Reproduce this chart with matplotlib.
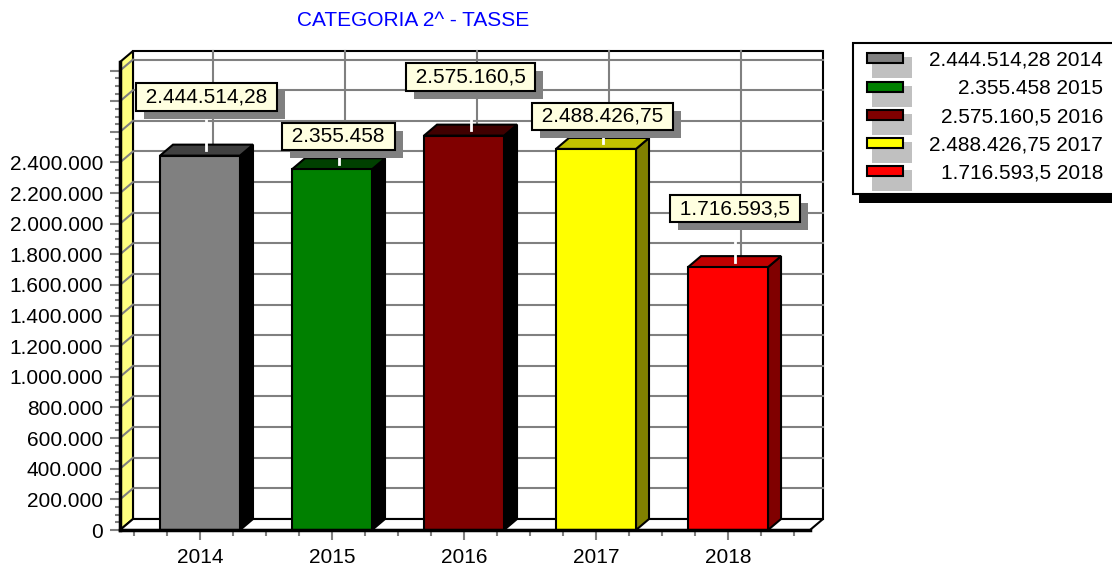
import numpy as np
import matplotlib
matplotlib.use('Agg')
import matplotlib.pyplot as plt
from matplotlib.patches import Polygon, Rectangle
from matplotlib.transforms import IdentityTransform

plt.rcParams['font.family'] = ['Liberation Sans', 'DejaVu Sans']

# dati
years = ['2014', '2015', '2016', '2017', '2018']
values = [2444514.28, 2355458, 2575160.5, 2488426.75, 1716593.5]
front_colors = ['#808080', '#008000', '#800000', '#FFFF00', '#FF0000']
top_colors = ['#404040', '#004000', '#400000', '#C0C000', '#C00000']
side_colors = ['#000000', '#000000', '#000000', '#808000', '#800000']
label_gap = [45, 19, 45, 19, 45]  # px tra barra e etichetta
y_max = 3056000
y_label_max = 2400000


def fmt_it(v):
    s = f'{v:,.2f}'.rstrip('0').rstrip('.')
    return s.replace(',', 'X').replace('.', ',').replace('X', '.')


W, H = 1112, 567
fig = plt.figure(figsize=(W / 100, H / 100), dpi=100)
ax = fig.add_axes([120 / W, 1 - 530 / H, 690 / W, 468 / H])
ax.set_xlim(-0.606, 4.621)
ax.set_ylim(0, y_max)
ax.patch.set_visible(False)

x0, x1 = ax.get_xlim()
y0, y1 = ax.get_ylim()
px_x = ax.bbox.width / (x1 - x0)
px_y = ax.bbox.height / (y1 - y0)
ddx = 13 / px_x   # profondita' 3D
ddy = 11 / px_y

grid_c = '#808080'
yticks = np.arange(0, 3000001, 200000)

# parete di fondo
ax.add_patch(Rectangle((x0 + ddx, y0 + ddy), x1 - x0, y1 - y0, fc='white',
                       ec='black', lw=1.5, clip_on=False, zorder=0.5))
for y in yticks[1:]:
    ax.plot([x0 + ddx, x1 + ddx], [y + ddy, y + ddy], color=grid_c, lw=1.5,
            clip_on=False, zorder=0.6)
for i in range(len(years)):
    ax.plot([i + ddx, i + ddx], [ddy, y1 + ddy], color=grid_c, lw=1.5,
            clip_on=False, zorder=0.6)

# parete sinistra gialla
ax.add_patch(Polygon([(x0, y0), (x0 + ddx, y0 + ddy), (x0 + ddx, y1 + ddy), (x0, y1)],
                     closed=True, fc='#FFFF80', ec='black', lw=1.5, clip_on=False, zorder=0.7))
for y in yticks[1:]:
    ax.plot([x0, x0 + ddx], [y, y + ddy], color=grid_c, lw=1.5, clip_on=False, zorder=0.75)

# pavimento
ax.add_patch(Polygon([(x0, y0), (x1, y0), (x1 + ddx, y0 + ddy), (x0 + ddx, y0 + ddy)],
                     closed=True, fc='white', ec='black', lw=1.5, clip_on=False, zorder=0.8))

# barre
bw = 0.606
xs = np.arange(len(years))
ax.bar(xs, values, width=bw, color=front_colors, edgecolor='black', lw=1.5, zorder=3)
for x, v, tc, sc in zip(xs, values, top_colors, side_colors):
    r, l = x + bw / 2, x - bw / 2
    ax.add_patch(Polygon([(r, 0), (r + ddx, ddy), (r + ddx, v + ddy), (r, v)], closed=True,
                         fc=sc, ec='black', lw=1.5, clip_on=False, zorder=2.9))
    ax.add_patch(Polygon([(l, v), (r, v), (r + ddx, v + ddy), (l + ddx, v + ddy)], closed=True,
                         fc=tc, ec='black', lw=1.5, clip_on=False, zorder=2.9))

# etichette valori
labels = []
for x, v, gap in zip(xs, values, label_gap):
    txt = ' ' + fmt_it(v) + ' '
    cx = x + ddx / 2
    ax.plot([cx, cx], [v + ddy / 2, v + (gap - 8) / px_y], color='white', lw=2,
            clip_on=False, zorder=3.5)
    ann = ax.annotate(txt, xy=(cx, v), xytext=(0, (gap + 4) * 0.72),
                      textcoords='offset points', ha='center', va='bottom', fontsize=15,
                      color='black', zorder=6,
                      bbox=dict(boxstyle='square,pad=0.2', fc='#FFFFE0', ec='black', lw=1.5))
    labels.append(ann)

# assi
for s in ['top', 'right']:
    ax.spines[s].set_visible(False)
for s in ['left', 'bottom']:
    ax.spines[s].set_linewidth(2.5)
    ax.spines[s].set_zorder(4)

ax.set_yticks(yticks)
ax.set_yticklabels([fmt_it(y) if y <= y_label_max else '' for y in yticks])
ax.set_yticks(np.arange(0, 3000001, 50000), minor=True)
ax.set_xticks(xs)
ax.set_xticklabels(years)
ax.set_xticks(np.arange(-0.5, 4.51, 0.25), minor=True)
ax.tick_params(axis='y', which='major', length=7.2, width=1.5, color=grid_c, labelsize=15, pad=5)
ax.tick_params(axis='y', which='minor', length=3.6, width=1.5, color=grid_c)
ax.tick_params(axis='x', which='major', length=7.2, width=1.5, color=grid_c, labelsize=15, pad=6)
ax.tick_params(axis='x', which='minor', length=4.5, width=1.5, color=grid_c)

# titolo
fig.text(413.5 / W, 1 - 20 / H, 'CATEGORIA 2^ - TASSE', color='#0000FF', fontsize=15,
         ha='center', va='center')

# ombre delle etichette (dopo il layout del testo)
fig.canvas.draw()
for ann in labels:
    bb = ann.get_bbox_patch().get_window_extent()
    ax.add_patch(Rectangle((bb.x0 + 8, bb.y0 - 8), bb.width, bb.height, fc=grid_c,
                           ec='none', transform=IdentityTransform(), clip_on=False, zorder=5))

# legenda
lax = fig.add_axes([0, 0, 1, 1])
lax.set_xlim(0, W)
lax.set_ylim(H, 0)
lax.axis('off')
lax.patch.set_visible(False)
lax.add_patch(Rectangle((859, 51), 270, 152, fc='black', ec='none'))
lax.add_patch(Rectangle((853, 43), 270, 151, fc='white', ec='black', lw=1.5))
for i, (yr, v, c) in enumerate(zip(years, values, front_colors)):
    top = 53.3 + 28.2 * i
    lax.add_patch(Rectangle((872, top + 4), 40, 21, fc='#C0C0C0', ec='none'))
    lax.add_patch(Rectangle((867, top), 36, 10, fc=c, ec='black', lw=1.5))
    lax.text(1103, top + 7, f'{fmt_it(v)} {yr}', fontsize=15, ha='right', va='center')

fig.savefig('out.png', dpi=100)
